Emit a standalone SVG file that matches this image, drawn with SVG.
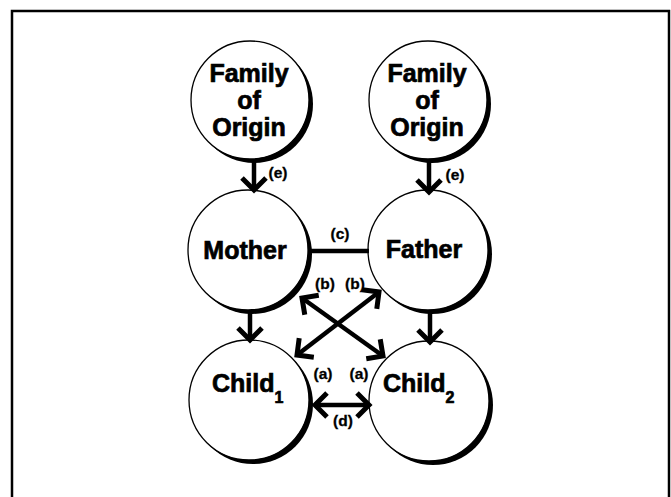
<svg xmlns="http://www.w3.org/2000/svg" width="671" height="497" viewBox="0 0 671 497">
<style>
.shadow{fill:#000}
.node{fill:#fff;stroke:#000;stroke-width:1.3}
.t{font-family:"Liberation Sans",Arial,sans-serif;font-weight:bold;font-size:25px;fill:#000;stroke:#000;stroke-width:0.7;text-anchor:middle}
.ts{font-family:"Liberation Sans",Arial,sans-serif;font-weight:bold;font-size:25px;fill:#000;stroke:#000;stroke-width:0.7}
.lbl{font-family:"Liberation Sans",Arial,sans-serif;font-weight:bold;font-size:15.5px;fill:#000;stroke:#000;stroke-width:0.3;text-anchor:middle}
.c{stroke:#000;stroke-width:4.5;fill:none}
</style>
<defs>
<marker id="ah" markerUnits="userSpaceOnUse" viewBox="-18 -18 22 36" refX="0" refY="0" markerWidth="22" markerHeight="36" orient="auto-start-reverse">
<path d="M-12,-12 L0,0 L-12,12" fill="none" stroke="#000" stroke-width="5" stroke-linejoin="miter"/>
</marker>
</defs>
<rect x="12" y="11" width="657" height="492" fill="#fff" stroke="#000" stroke-width="2.5"/>
<g id="fo-left">
<circle class="shadow" cx="254" cy="104" r="59"/>
<circle class="node" cx="250" cy="100" r="59"/>
<text class="t" x="249" y="82">Family</text>
<text class="t" x="249" y="109">of</text>
<text class="t" x="249" y="136">Origin</text>
</g>
<g id="fo-right">
<circle class="shadow" cx="432" cy="104" r="59"/>
<circle class="node" cx="428" cy="100" r="59"/>
<text class="t" x="427" y="82">Family</text>
<text class="t" x="427" y="109">of</text>
<text class="t" x="427" y="136">Origin</text>
</g>
<g id="mother">
<circle class="shadow" cx="252" cy="254" r="60"/>
<circle class="node" cx="248" cy="250" r="60"/>
<text class="t" x="245" y="259">Mother</text>
</g>
<g id="father">
<circle class="shadow" cx="432" cy="254" r="60"/>
<circle class="node" cx="428" cy="250" r="60"/>
<text class="t" x="424" y="258">Father</text>
</g>
<g id="child1">
<circle class="shadow" cx="253" cy="404" r="60"/>
<circle class="node" cx="249" cy="400" r="60"/>
<text class="ts" x="212" y="392">Child<tspan font-size="16" dy="11">1</tspan></text>
</g>
<g id="child2">
<circle class="shadow" cx="433" cy="405" r="60"/>
<circle class="node" cx="429" cy="401" r="60"/>
<text class="ts" x="383" y="392">Child<tspan font-size="16" dy="11">2</tspan></text>
</g>
<g id="connectors">
<line class="c" x1="254" y1="159" x2="254" y2="190" stroke-width="5" marker-end="url(#ah)"/>
<line class="c" x1="429" y1="159" x2="429" y2="192" stroke-width="5" marker-end="url(#ah)"/>
<line class="c" x1="250" y1="311" x2="250" y2="340" stroke-width="5" marker-end="url(#ah)"/>
<line class="c" x1="430" y1="311" x2="430" y2="342" stroke-width="5" marker-end="url(#ah)"/>
<line class="c" x1="309" y1="251" x2="369" y2="251" stroke-width="4"/>
<line class="c" x1="302" y1="298" x2="383" y2="356" marker-start="url(#ah)" marker-end="url(#ah)"/>
<line class="c" x1="379" y1="292" x2="297" y2="355" marker-start="url(#ah)" marker-end="url(#ah)"/>
<line class="c" x1="315" y1="405" x2="369" y2="405" marker-start="url(#ah)" marker-end="url(#ah)"/>
<text class="lbl" x="278" y="178">(e)</text>
<text class="lbl" x="455" y="180">(e)</text>
<text class="lbl" x="340" y="239">(c)</text>
<text class="lbl" x="325" y="289">(b)</text>
<text class="lbl" x="355" y="289">(b)</text>
<text class="lbl" x="323" y="379">(a)</text>
<text class="lbl" x="359" y="379">(a)</text>
<text class="lbl" x="343" y="426">(d)</text>
</g>
</svg>
